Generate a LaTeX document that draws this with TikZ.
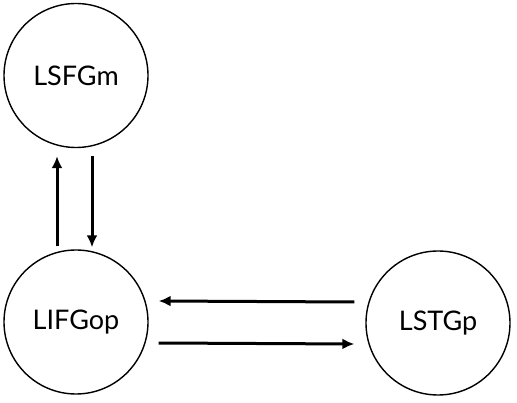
\documentclass[tikz,border=0pt]{standalone}
\usepackage{fontspec}
\setmainfont{Lato}
\usetikzlibrary{arrows.meta}

\begin{document}
\begin{tikzpicture}[x=1pt,y=1pt,
    area/.style={circle,draw,line width=1.4pt,minimum size=144pt,inner sep=0pt,font=\fontsize{27}{30}\selectfont},
    flow/.style={line width=3pt,-{Latex[length=12pt,width=11pt]}}]
    \useasboundingbox (0,0) rectangle (517,402);

    \node [area] (lsfgm) at (76,326.5) {LSFGm};
    \node [area] (lifgop) at (76,80) {LIFGop};
    \node [area] (lstgp) at (438,79) {LSTGp};

    \draw [flow] ([xshift=-19pt,yshift=3pt]lifgop.north) -- ([xshift=-19pt,yshift=-8pt]lsfgm.south);
    \draw [flow] ([xshift=16pt,yshift=-8pt]lsfgm.south) -- ([xshift=16pt,yshift=2pt]lifgop.north);
    \draw [flow] ([xshift=-11pt,yshift=21pt]lstgp.west) -- ([xshift=10pt,yshift=21pt]lifgop.east);
    \draw [flow] ([xshift=10pt,yshift=-21pt]lifgop.east) -- ([xshift=-11pt,yshift=-21pt]lstgp.west);
\end{tikzpicture}
\end{document}
